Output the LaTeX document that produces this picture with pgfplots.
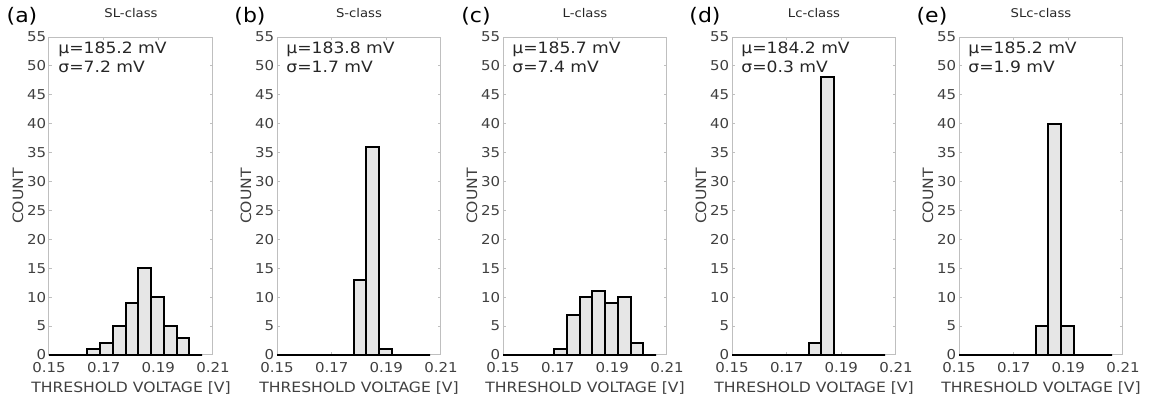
\documentclass[border=0pt]{standalone}
\usepackage{pgfplots}
\pgfplotsset{compat=1.18}
\usepackage{pgfplotstable}
\usepackage{fontspec}
\setmainfont{DejaVu Sans}[FakeStretch=1.1]
\definecolor{axgray}{HTML}{BFBFBF}
\definecolor{txtgray}{HTML}{404040}
\definecolor{txtdark}{HTML}{262626}
\definecolor{barfill}{HTML}{E6E6E6}

\pgfplotstableread{
x a b c d e
0.15000 0 0 0 0 0
0.15467 0 0 0 0 0
0.15933 0 0 0 0 0
0.16400 1 0 0 0 0
0.16867 2 0 1 0 0
0.17333 5 0 7 0 0
0.17800 9 13 10 2 5
0.18267 15 36 11 48 40
0.18733 10 1 9 0 5
0.19200 5 0 10 0 0
0.19667 3 0 2 0 0
0.20133 0 0 0 0 0
0.20600 0 0 0 0 0
}\histdata

\pgfplotsset{
 histax/.style={
  scale only axis, width=82pt, height=159pt,
  xmin=0.15, xmax=0.21, ymin=0, ymax=55,
  xtick={0.15,0.17,0.19,0.21}, xticklabels={0.15,0.17,0.19,0.21},
  ytick={0,5,...,55},
  tick align=inside, major tick length=1.5pt,
  axis line style={axgray, line width=0.5pt},
  every tick/.style={axgray, line width=0.5pt},
  tick label style={font=\fontsize{6.8}{8}\selectfont, text=txtgray},
  /pgf/number format/assume math mode=true,
  xticklabel style={anchor=base, yshift=-9pt, inner sep=0pt},
  yticklabel style={anchor=east, inner sep=0pt, xshift=-1.2pt},
  xlabel={THRESHOLD VOLTAGE [V]},
  ylabel={COUNT},
  label style={font=\fontsize{7.1}{8}\selectfont, text=txtgray},
  xlabel style={at={(axis description cs:0.5,0)}, anchor=base, yshift=-19pt, inner sep=0pt},
  ylabel style={at={(axis description cs:-0.19,0.5)}, anchor=center},
  title style={at={(axis description cs:0.5,1)}, anchor=center, yshift=6pt, font=\fontsize{6}{7}\selectfont, text=txtdark},
  clip=false,
  anchor=south west,
 },
 hist/.style={ybar interval, fill=barfill, draw=black, line width=1pt},
}
\tikzset{
 plab/.style={anchor=center, font=\fontsize{10}{11}\selectfont, xshift=-13.5pt, yshift=10.5pt},
 stat/.style={anchor=west, inner sep=0pt, font=\fontsize{7.8}{9}\selectfont, text=txtdark, xshift=4.5pt},
}

\begin{document}
\begin{tikzpicture}
\useasboundingbox (0,0) rectangle (576.5pt,201pt);

\begin{axis}[histax, at={(24.5pt,23.5pt)}, title={SL-class}]
\addplot[hist] table[x=x,y=a] {\histdata};
\node[plab] at (rel axis cs:0,1) {(a)};
\node[stat, yshift=-6pt] at (rel axis cs:0,1) {μ=185.2 mV};
\node[stat, yshift=-14.75pt] at (rel axis cs:0,1) {σ=7.2 mV};
\end{axis}

\begin{axis}[histax, at={(138.5pt,23.5pt)}, title={S-class}]
\addplot[hist] table[x=x,y=b] {\histdata};
\node[plab] at (rel axis cs:0,1) {(b)};
\node[stat, yshift=-6pt] at (rel axis cs:0,1) {μ=183.8 mV};
\node[stat, yshift=-14.75pt] at (rel axis cs:0,1) {σ=1.7 mV};
\end{axis}

\begin{axis}[histax, at={(251.5pt,23.5pt)}, title={L-class}]
\addplot[hist] table[x=x,y=c] {\histdata};
\node[plab] at (rel axis cs:0,1) {(c)};
\node[stat, yshift=-6pt] at (rel axis cs:0,1) {μ=185.7 mV};
\node[stat, yshift=-14.75pt] at (rel axis cs:0,1) {σ=7.4 mV};
\end{axis}

\begin{axis}[histax, at={(366pt,23.5pt)}, title={Lc-class}]
\addplot[hist] table[x=x,y=d] {\histdata};
\node[plab] at (rel axis cs:0,1) {(d)};
\node[stat, yshift=-6pt] at (rel axis cs:0,1) {μ=184.2 mV};
\node[stat, yshift=-14.75pt] at (rel axis cs:0,1) {σ=0.3 mV};
\end{axis}

\begin{axis}[histax, at={(479.5pt,23.5pt)}, title={SLc-class}]
\addplot[hist] table[x=x,y=e] {\histdata};
\node[plab] at (rel axis cs:0,1) {(e)};
\node[stat, yshift=-6pt] at (rel axis cs:0,1) {μ=185.2 mV};
\node[stat, yshift=-14.75pt] at (rel axis cs:0,1) {σ=1.9 mV};
\end{axis}
\end{tikzpicture}
\end{document}
